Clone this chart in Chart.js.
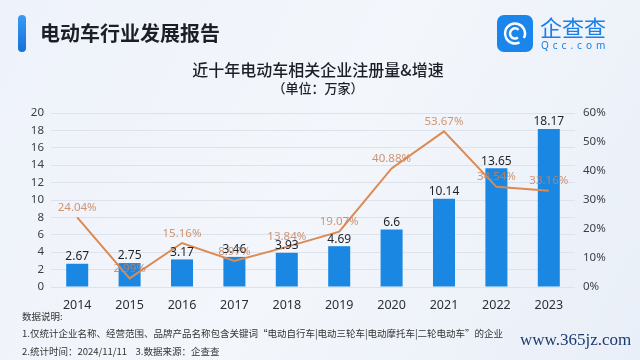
<!DOCTYPE html>
<html>
<head>
<meta charset="utf-8">
<script src="https://cdn.jsdelivr.net/npm/chart.js@4/dist/chart.umd.min.js"></script>
<style>
  html, body { margin: 0; padding: 0; background: #eef2f9; }
  #c { display: block; }
</style>
</head>
<body>
<canvas id="c" width="640" height="360"></canvas>
<script>
const years = ['2014', '2015', '2016', '2017', '2018', '2019', '2020', '2021', '2022', '2023'];
const registrations = [2.67, 2.75, 3.17, 3.46, 3.93, 4.69, 6.6, 10.14, 13.65, 18.17];
const growthRates = [24.04, 2.99, 15.16, 8.97, 13.84, 19.07, 40.88, 53.67, 34.54, 33.16];
const leftTicks = [0, 2, 4, 6, 8, 10, 12, 14, 16, 18, 20];
const rightTicks = [0, 10, 20, 30, 40, 50, 60];

const CJK = '"Noto Sans CJK SC", "Noto Sans", sans-serif';
const FONT = '"Noto Sans", "Noto Sans CJK SC", sans-serif';

// background and page header / footer
const decorPlugin = {
  id: 'decor',
  beforeDraw(chart) {
    const ctx = chart.ctx;
    ctx.save();
    const g = ctx.createLinearGradient(0, 0, 640, 360);
    g.addColorStop(0, '#eef2fa');
    g.addColorStop(0.5, '#f3f6fb');
    g.addColorStop(1, '#e9eff8');
    ctx.fillStyle = g;
    ctx.fillRect(0, 0, 640, 360);
    ctx.restore();
  },
  afterDraw(chart) {
    const ctx = chart.ctx;
    ctx.save();
    // title bar
    const bg = ctx.createLinearGradient(0, 15, 0, 52);
    bg.addColorStop(0, '#3a9bf5');
    bg.addColorStop(1, '#1470db');
    ctx.fillStyle = bg;
    ctx.beginPath();
    ctx.roundRect(18, 15, 8, 37, 4);
    ctx.fill();
    ctx.fillStyle = '#1c1f26';
    ctx.font = 'bold 20px ' + CJK;
    ctx.textBaseline = 'middle';
    ctx.fillText('电动车行业发展报告', 40, 33);

    // logo
    ctx.fillStyle = '#1a86ec';
    ctx.beginPath();
    ctx.roundRect(497, 15, 36, 37, 7);
    ctx.fill();
    ctx.strokeStyle = '#ffffff';
    ctx.lineWidth = 2.5;
    ctx.beginPath();
    ctx.arc(515, 33.5, 10, 0.35 * Math.PI, 2.15 * Math.PI);
    ctx.stroke();
    ctx.beginPath();
    ctx.arc(515, 33.5, 5, 0.3 * Math.PI, 1.75 * Math.PI);
    ctx.stroke();
    ctx.fillStyle = '#1a7fe6';
    ctx.font = '22px ' + CJK;
    ctx.fillText('企查查', 540, 28);
    ctx.font = '10px ' + FONT;
    ctx.letterSpacing = '4px';
    ctx.fillText('Qcc.com', 541, 46);
    ctx.letterSpacing = '0px';

    // chart title
    ctx.textAlign = 'center';
    ctx.fillStyle = '#1c1f26';
    ctx.font = '500 16px ' + CJK;
    ctx.fillText('近十年电动车相关企业注册量&增速', 318, 70);
    ctx.font = '500 13px ' + CJK;
    ctx.fillText('（单位：万家）', 318, 88);

    // notes
    ctx.textAlign = 'left';
    ctx.fillStyle = '#333333';
    ctx.font = '9.5px ' + CJK;
    ctx.fillText('数据说明:', 22, 316);
    ctx.fillText('1.仅统计企业名称、经营范围、品牌产品名称包含关键词“电动自行车|电动三轮车|电动摩托车|二轮电动车”的企业', 22, 333);
    ctx.fillText('2.统计时间：2024/11/11    3.数据来源：企查查', 22, 351);

    ctx.fillStyle = '#1d3a6e';
    ctx.font = '17px "Liberation Serif", serif';
    ctx.fillText('www.365jz.com', 520, 341);
    ctx.restore();
  }
};

// value labels for bars and growth line
const labelPlugin = {
  id: 'valueLabels',
  afterDatasetsDraw(chart) {
    const ctx = chart.ctx;
    ctx.save();
    ctx.textAlign = 'center';
    ctx.textBaseline = 'bottom';
    const bars = chart.getDatasetMeta(0).data;
    ctx.font = '12px ' + FONT;
    ctx.fillStyle = '#1f2329';
    bars.forEach((el, i) => {
      ctx.fillText(String(registrations[i]), el.x, el.y - 1);
    });
    const pts = chart.getDatasetMeta(1).data;
    ctx.font = '11.5px ' + FONT;
    ctx.fillStyle = 'rgba(200, 130, 92, 0.85)';
    pts.forEach((el, i) => {
      ctx.fillText(growthRates[i].toFixed(2) + '%', el.x, el.y - 4);
    });
    ctx.restore();
  }
};

const ctx = document.getElementById('c').getContext('2d');
new Chart(ctx, {
  type: 'bar',
  data: {
    labels: years,
    datasets: [
      {
        type: 'bar',
        label: '注册量',
        data: registrations,
        backgroundColor: '#1a87e3',
        barPercentage: 0.42,
        categoryPercentage: 1,
        yAxisID: 'y',
        order: 2
      },
      {
        type: 'line',
        label: '增速',
        data: growthRates,
        borderColor: '#dc8a52',
        borderWidth: 2,
        pointRadius: 0,
        tension: 0,
        yAxisID: 'y1',
        order: 1
      }
    ]
  },
  options: {
    responsive: false,
    animation: false,
    layout: { padding: { top: 113, left: 0, right: 0, bottom: 51 } },
    plugins: {
      legend: { display: false },
      tooltip: { enabled: false }
    },
    scales: {
      x: {
        grid: { display: false },
        border: { display: false },
        ticks: { color: '#2b2f36', font: { size: 12.5, family: FONT }, padding: 3 },
        afterFit(s) { s.height = 22; }
      },
      y: {
        position: 'left',
        min: 0,
        max: 20,
        afterBuildTicks(s) { s.ticks = leftTicks.map(v => ({ value: v })); },
        grid: { color: '#dde3ed', drawTicks: false },
        border: { display: false },
        ticks: { color: '#3a3f47', font: { size: 11.5, family: FONT }, padding: 7 },
        afterFit(s) { s.width = 51; }
      },
      y1: {
        position: 'right',
        min: 0,
        max: 60,
        afterBuildTicks(s) { s.ticks = rightTicks.map(v => ({ value: v })); },
        grid: { drawOnChartArea: false, drawTicks: false },
        border: { display: false },
        ticks: {
          color: '#3a3f47',
          font: { size: 11.5, family: FONT },
          padding: 8,
          callback: v => v + '%'
        },
        afterFit(s) { s.width = 65; }
      }
    }
  },
  plugins: [decorPlugin, labelPlugin]
});
</script>
</body>
</html>
